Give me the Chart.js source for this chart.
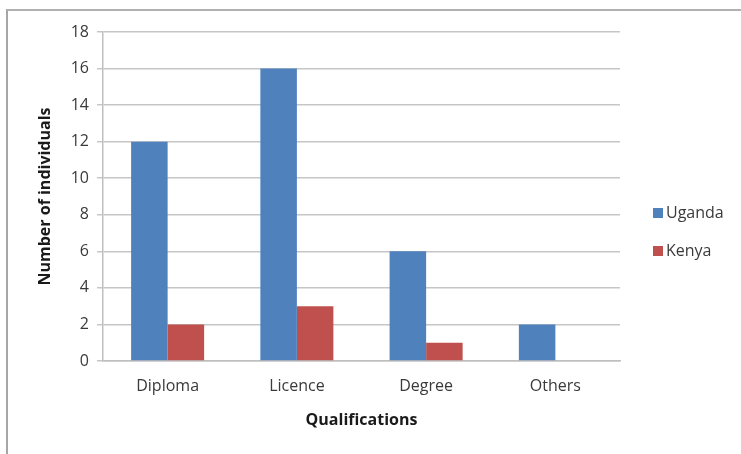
<!DOCTYPE html>
<html>
<head>
<meta charset="utf-8">
<script src="https://cdn.jsdelivr.net/npm/chart.js@4/dist/chart.umd.min.js"></script>
<style>
html, body { margin: 0; padding: 0; background: #fff; }
#wrap { position: relative; width: 741px; height: 454px; overflow: hidden; }
#frame { position: absolute; left: 6px; top: 9px; width: 760px; height: 470px;
  border-left: 2px solid #a6a6a6; border-top: 2px solid #b0b0b0; box-sizing: border-box; }
canvas { position: absolute; left: 0; top: 0; }
</style>
</head>
<body>
<div id="wrap">
<div id="frame"></div>
<canvas id="chart" width="741" height="454"></canvas>
</div>
<script>
// Data
const categories = ['Diploma', 'Licence', 'Degree', 'Others'];
const uganda = [12, 16, 6, 2];
const kenya = [2, 3, 1, 0];
const yTicks = [0, 2, 4, 6, 8, 10, 12, 14, 16, 18];

const FONT = '"Open Sans", "Liberation Sans", sans-serif';
const TEXT = '#3a3a3a';

// Legend drawn at the right like Excel
const sideLegend = {
  id: 'sideLegend',
  afterDraw(chart) {
    const ctx = chart.ctx;
    ctx.save();
    ctx.font = '16px ' + FONT;
    ctx.textBaseline = 'middle';
    chart.data.datasets.forEach((ds, i) => {
      const y = 213 + i * 38;
      ctx.fillStyle = ds.backgroundColor;
      ctx.fillRect(653, y - 5, 10, 10);
      ctx.fillStyle = TEXT;
      ctx.fillText(ds.label, 666, y);
    });
    ctx.restore();
  }
};

new Chart(document.getElementById('chart'), {
  type: 'bar',
  data: {
    labels: categories,
    datasets: [
      { label: 'Uganda', data: uganda, backgroundColor: '#4f81bd' },
      { label: 'Kenya', data: kenya, backgroundColor: '#c0504d' }
    ]
  },
  options: {
    responsive: false,
    animation: false,
    layout: { padding: { left: 36, right: 121, top: 32, bottom: 24 } },
    datasets: { bar: { categoryPercentage: 0.565, barPercentage: 1.0 } },
    plugins: { legend: { display: false }, tooltip: { enabled: false } },
    scales: {
      x: {
        grid: { display: false, drawTicks: false },
        border: { color: '#bfbfbf', width: 1.5 },
        ticks: { color: TEXT, font: { family: FONT, size: 16 }, padding: 16 },
        title: { display: true, text: 'Qualifications', color: '#1a1a1a',
          font: { family: FONT, size: 16, weight: 'bold' }, padding: 0 },
        afterFit(s) { s.height = 69; }
      },
      y: {
        min: 0, max: 18,
        afterBuildTicks(s) { s.ticks = yTicks.map(v => ({ value: v })); },
        grid: { color: '#c6c6c6', lineWidth: 1.5, tickLength: 6 },
        border: { color: '#bfbfbf', width: 1.5 },
        ticks: { color: TEXT, font: { family: FONT, size: 16 }, padding: 8 },
        title: { display: true, text: 'Number of individuals', color: '#1a1a1a',
          font: { family: FONT, size: 16, weight: 'bold' }, padding: 0 },
        afterFit(s) { s.width = 67; }
      }
    }
  },
  plugins: [sideLegend]
});
</script>
</body>
</html>
